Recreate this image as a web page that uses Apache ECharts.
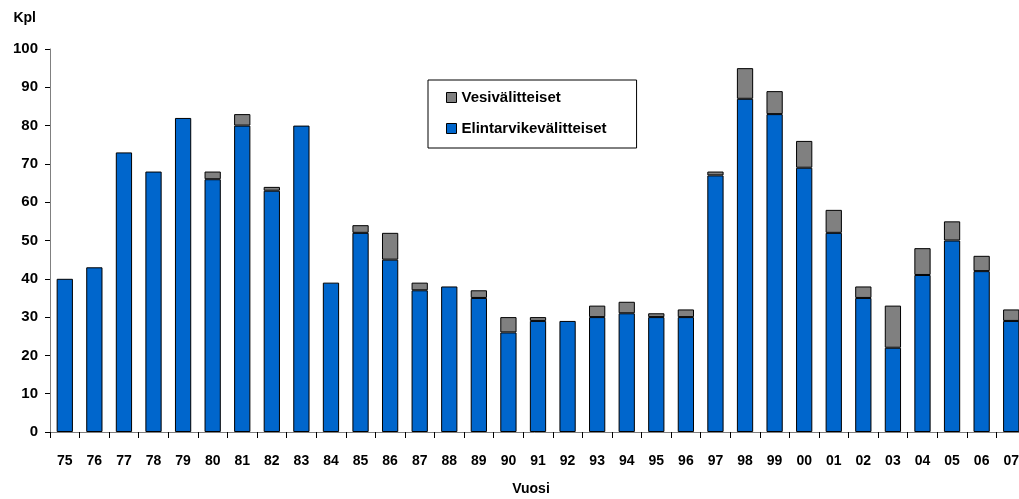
<!DOCTYPE html>
<html>
<head>
<meta charset="utf-8">
<script src="https://cdn.jsdelivr.net/npm/echarts@6/dist/echarts.min.js"></script>
<style>
  html, body { margin: 0; padding: 0; background: #fff; }
  #chart { width: 1019px; height: 499px; }
</style>
</head>
<body>
<div id="chart"></div>
<script>
// vuodet
var years = ['75','76','77','78','79','80','81','82','83','84','85','86','87','88','89','90',
  '91','92','93','94','95','96','97','98','99','00','01','02','03','04','05','06','07'];
// elintarvikevälitteiset (sininen)
var elintarvike = [40,43,73,68,82,66,80,63,80,39,52,45,37,38,35,26,
  29,29,30,31,30,30,67,87,83,69,52,35,22,41,50,42,29];
// vesivälitteiset (harmaa), pinottu päälle
var vesi = [0,0,0,0,0,2,3,1,0,0,2,7,2,0,2,4,
  1,0,3,3,1,2,1,8,6,7,6,3,11,7,5,4,3];

var font = 'Liberation Sans, Arial, sans-serif';

var chart = echarts.init(document.getElementById('chart'));
chart.setOption({
  animation: false,
  textStyle: { fontFamily: font },
  grid: { left: 50, right: -7, top: 49, bottom: 67, containLabel: false, outerBoundsMode: 'none' },
  legend: {
    orient: 'vertical',
    left: 428, top: 80,
    width: 211,
    padding: [10, 30, 12, 18],
    itemGap: 16,
    itemWidth: 10, itemHeight: 10,
    icon: 'rect',
    borderColor: '#000', borderWidth: 1,
    itemStyle: { borderColor: '#000', borderWidth: 1 },
    textStyle: { fontFamily: font, fontWeight: 'bold', fontSize: 15, color: '#000' },
    data: ['Vesivälitteiset', 'Elintarvikevälitteiset']
  },
  xAxis: {
    type: 'category',
    data: years,
    name: 'Vuosi',
    nameLocation: 'middle',
    nameGap: 50,
    nameTextStyle: { fontFamily: font, fontWeight: 'bold', fontSize: 14, color: '#000', padding: [0, 0, 0, -14] },
    axisLine: { lineStyle: { color: '#808080', width: 1 } },
    axisTick: { show: true, alignWithLabel: false, length: 6, lineStyle: { color: '#000' } },
    axisLabel: { fontFamily: font, fontWeight: 'bold', fontSize: 14, color: '#000', margin: 22, interval: 0 }
  },
  yAxis: {
    type: 'value',
    min: 0, max: 100, interval: 10,
    name: 'Kpl',
    nameLocation: 'end',
    nameGap: 24,
    nameTextStyle: { fontFamily: font, fontWeight: 'bold', fontSize: 14, color: '#000', align: 'right', padding: [0, 14, 0, 0] },
    axisLine: { show: true, lineStyle: { color: '#808080', width: 1 } },
    axisTick: { show: true, length: 5, lineStyle: { color: '#000' } },
    axisLabel: { fontFamily: font, fontWeight: 'bold', fontSize: 15, color: '#000', margin: 12 },
    splitLine: { show: false }
  },
  series: [
    {
      name: 'Elintarvikevälitteiset',
      type: 'bar',
      stack: 'yht',
      data: elintarvike,
      barWidth: '55%',
      itemStyle: { color: '#0066CC', borderColor: '#000', borderWidth: 1 }
    },
    {
      name: 'Vesivälitteiset',
      type: 'bar',
      stack: 'yht',
      data: vesi.map(function (v) { return v === 0 ? null : v; }),
      barWidth: '55%',
      itemStyle: { color: '#808080', borderColor: '#000', borderWidth: 1 }
    }
  ]
});
</script>
</body>
</html>
